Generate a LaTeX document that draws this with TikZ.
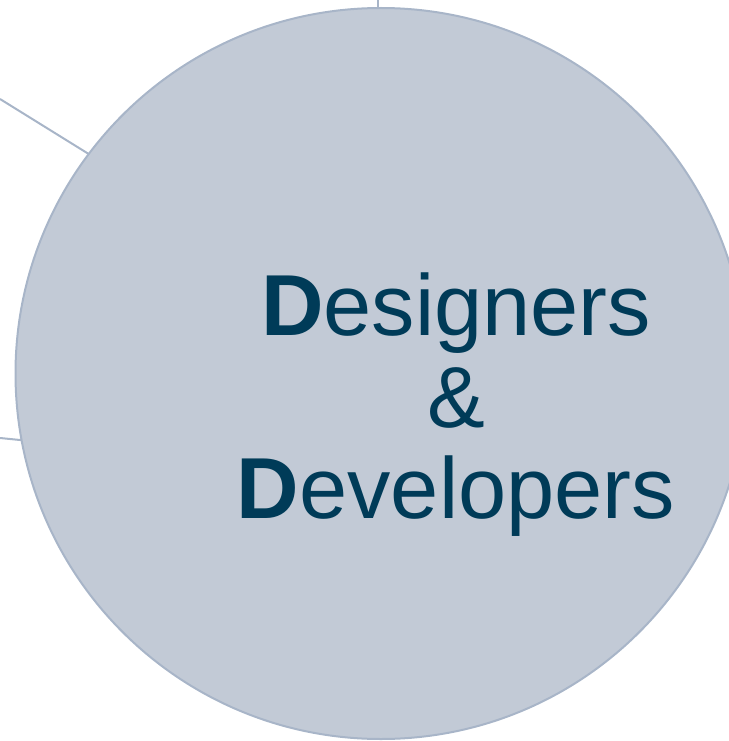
\documentclass[tikz,border=0pt]{standalone}
\usepackage{fontspec}
\setmainfont{Liberation Sans}
\definecolor{circfill}{HTML}{C2CAD6}
\definecolor{circline}{HTML}{A8B5C8}
\definecolor{textcol}{HTML}{003B58}
\begin{document}
\begin{tikzpicture}[x=1pt,y=-1pt,
  connector/.style={draw=circline,line width=2pt},
  bigcircle/.style={circle,fill=circfill,draw=circline,line width=2pt,minimum size=731pt,inner sep=0pt},
  label/.style={text=textcol,font=\fontsize{86.6}{91.5}\selectfont,anchor=base,inner sep=0pt}]
\useasboundingbox (0,0) rectangle (728,741);
\coordinate (l1a) at (0,99);
\coordinate (l1b) at (100,161);
\coordinate (l2a) at (0,438);
\coordinate (l2b) at (30,441);
\coordinate (l3a) at (378,0);
\coordinate (l3b) at (378,20);
\draw[connector] (l1a) -- (l1b);
\draw[connector] (l2a) -- (l2b);
\draw[connector] (l3a) -- (l3b);
\node[bigcircle] (c) at (381,373.5) {};
\node[label] (t1) at (456,335) {\textbf{D}esigners};
\node[label] (t2) at (456,427) {\&};
\node[label] (t3) at (456,518) {\textbf{D}evelopers};
\end{tikzpicture}
\end{document}
